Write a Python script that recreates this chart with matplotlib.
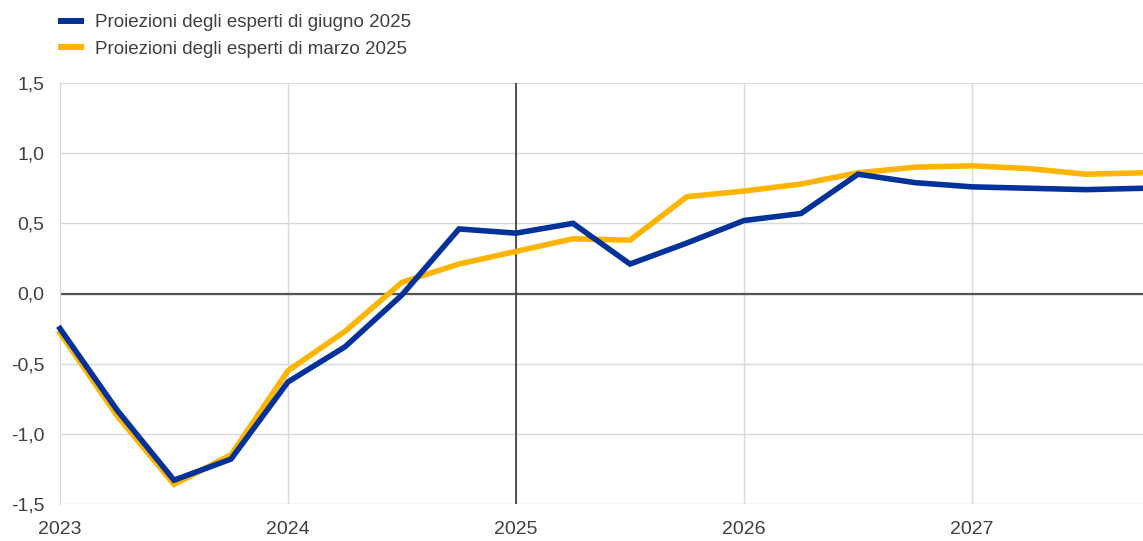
import matplotlib
matplotlib.use("Agg")
import matplotlib.pyplot as plt
from matplotlib.lines import Line2D
import numpy as np

plt.rcParams['font.family'] = ['Liberation Sans', 'DejaVu Sans']

quarters = [2023.0, 2023.25, 2023.5, 2023.75, 2024.0, 2024.25, 2024.5, 2024.75,
            2025.0, 2025.25, 2025.5, 2025.75, 2026.0, 2026.25, 2026.5, 2026.75,
            2027.0, 2027.25, 2027.5, 2027.75]
june_2025 = [-0.25, -0.83, -1.33, -1.18, -0.63, -0.38, -0.01, 0.46,
             0.43, 0.50, 0.21, 0.36, 0.52, 0.57, 0.85, 0.79,
             0.76, 0.75, 0.74, 0.75]
march_2025 = [-0.28, -0.87, -1.36, -1.15, -0.55, -0.27, 0.08, 0.21,
              0.30, 0.39, 0.38, 0.69, 0.73, 0.78, 0.86, 0.90,
              0.91, 0.89, 0.85, 0.86]
series_labels = ["Proiezioni degli esperti di giugno 2025",
                 "Proiezioni degli esperti di marzo 2025"]
x_ticks = [2023, 2024, 2025, 2026, 2027]
y_ticks = [-1.5, -1.0, -0.5, 0.0, 0.5, 1.0, 1.5]

blue = "#003299"
yellow = "#FFB400"
text_col = "#404040"

W, H = 1143, 541
fig = plt.figure(figsize=(W / 100, H / 100), dpi=100)
ax = fig.add_axes([60 / W, 37 / H, (W - 60) / W, (504 - 83) / H])

ax.plot(quarters, march_2025, color=yellow, lw=4, solid_joinstyle='miter', zorder=3, clip_on=False)
ax.plot(quarters, june_2025, color=blue, lw=4, solid_joinstyle='miter', zorder=4, clip_on=False)

ax.set_xlim(2023, 2027.75)
ax.set_ylim(-1.5, 1.5)
ax.set_xticks(x_ticks)
ax.set_xticklabels([str(t) for t in x_ticks])
ax.set_yticks(y_ticks)
ax.set_yticklabels([f"{v:.1f}".replace(".", ",") for v in y_ticks])
ax.grid(True, color="#d9d9d9", lw=1)
ax.set_axisbelow(True)
ax.axhline(0, color="#555555", lw=1.6, zorder=2)
ax.axvline(2025, color="#444444", lw=1.3, zorder=2)
for s in ["top", "right", "bottom"]:
    ax.spines[s].set_visible(False)
ax.spines["left"].set_color("#d9d9d9")
ax.tick_params(length=0, labelsize=14, colors=text_col)
ax.tick_params(axis='y', pad=11)
ax.tick_params(axis='x', pad=12)

handles = [Line2D([], [], color=blue, lw=4.3), Line2D([], [], color=yellow, lw=4.3)]
fig.legend(handles, series_labels, loc="upper left", bbox_to_anchor=(50 / W, 1 - 3 / H),
           frameon=False, fontsize=13.5, handlelength=1.05, handletextpad=0.75,
           labelspacing=0.5, borderaxespad=0.2, labelcolor=text_col)

fig.savefig("out.png", dpi=100)
